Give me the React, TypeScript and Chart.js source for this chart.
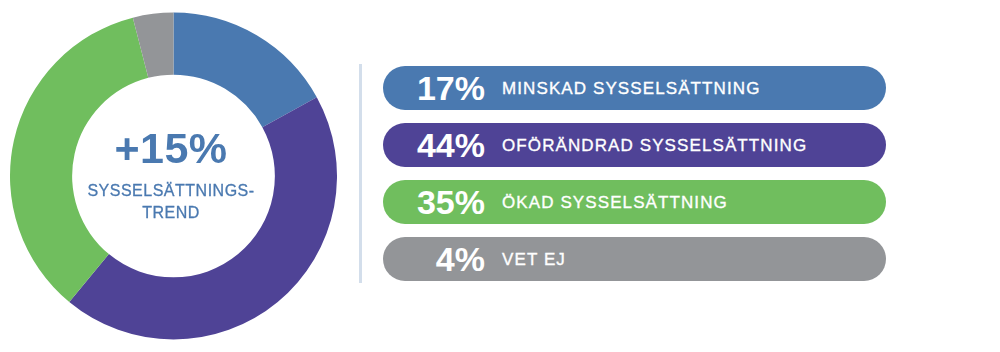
import React, { useEffect, useRef } from "react";
import { Chart, registerables } from "chart.js";

Chart.register(...registerables);

const categories = [
  "MINSKAD SYSSELSÄTTNING",
  "OFÖRÄNDRAD SYSSELSÄTTNING",
  "ÖKAD SYSSELSÄTTNING",
  "VET EJ",
];
const values = [17, 44, 35, 4];
const colors = ["#4a79b0", "#4f4396", "#70be5e", "#939598"];
const centerValue = "+15%";
const centerLabelLines = ["SYSSELSÄTTNINGS-", "TREND"];

const FONT = "'Liberation Sans', Arial, Helvetica, sans-serif";

export default function App() {
  const canvasRef = useRef<HTMLCanvasElement | null>(null);

  useEffect(() => {
    if (!canvasRef.current) return;
    const chart = new Chart(canvasRef.current, {
      type: "doughnut",
      data: {
        labels: categories,
        datasets: [
          {
            data: values,
            backgroundColor: colors,
            borderWidth: 0,
            hoverOffset: 0,
            offset: 0,
          },
        ],
      },
      options: {
        animation: false,
        responsive: true,
        maintainAspectRatio: false,
        cutout: "62%",
        rotation: 0,
        layout: { padding: 0 },
        plugins: {
          legend: { display: false },
          tooltip: { enabled: false },
        },
        events: [],
      },
    });
    return () => chart.destroy();
  }, []);

  const pillTop = 66;
  const pillPitch = 57;

  return (
    <div
      style={{
        position: "absolute",
        left: 0,
        top: 0,
        width: 1000,
        height: 352,
        background: "#ffffff",
        fontFamily: FONT,
        overflow: "hidden",
      }}
    >
      <div style={{ position: "absolute", left: 10, top: 12, width: 327, height: 328 }}>
        <canvas ref={canvasRef} />
      </div>

      {/* center text */}
      <div
        style={{
          position: "absolute",
          left: 71,
          width: 200,
          top: 126.6,
          textAlign: "center",
          fontSize: 43,
          lineHeight: "43px",
          fontWeight: "bold",
          color: colors[0],
          letterSpacing: 0.5,
        }}
      >
        {centerValue}
      </div>
      {centerLabelLines.map((line, i) => (
        <div
          key={line}
          style={{
            position: "absolute",
            left: 71,
            width: 200,
            top: 183.2 + i * 21.6,
            textAlign: "center",
            fontSize: 16,
            lineHeight: "16px",
            color: colors[0],
            letterSpacing: 0.5,
            whiteSpace: "nowrap",
            WebkitTextStroke: `0.3px ${colors[0]}`,
          }}
        >
          {line}
        </div>
      ))}

      {/* divider */}
      <div
        style={{
          position: "absolute",
          left: 359,
          top: 64,
          width: 2.5,
          height: 219,
          background: "#d3deeb",
        }}
      />

      {/* legend pills */}
      {categories.map((cat, i) => (
        <div
          key={cat}
          style={{
            position: "absolute",
            left: 383,
            top: pillTop + i * pillPitch,
            width: 503,
            height: 44,
            borderRadius: 22,
            background: colors[i],
            display: "flex",
            alignItems: "center",
            color: "#ffffff",
          }}
        >
          <div
            style={{
              width: 102,
              textAlign: "right",
              fontSize: 34,
              lineHeight: "34px",
              fontWeight: "bold",
              flex: "none",
            }}
          >
            {values[i]}%
          </div>
          <div
            style={{
              marginLeft: 17,
              fontSize: 17,
              lineHeight: "17px",
              letterSpacing: 1.1,
              whiteSpace: "nowrap",
              WebkitTextStroke: "0.35px #ffffff",
            }}
          >
            {cat}
          </div>
        </div>
      ))}
    </div>
  );
}
